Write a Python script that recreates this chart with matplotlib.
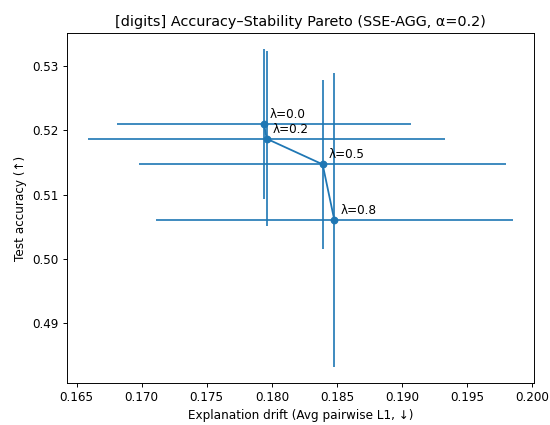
import matplotlib
matplotlib.use("Agg")
import matplotlib.pyplot as plt

lambdas = ["0.0", "0.2", "0.5", "0.8"]
drift = [0.1794, 0.1796, 0.1839, 0.1848]
drift_err = [0.0113, 0.0137, 0.0141, 0.0137]
acc = [0.5210, 0.5187, 0.5147, 0.5060]
acc_err = [0.0117, 0.0136, 0.0132, 0.0229]

DPI = 86
fig = plt.figure(figsize=(550 / DPI, 425 / DPI), dpi=DPI)
ax = fig.add_axes([67 / 550, 42 / 425, 467 / 550, 350 / 425])

ax.errorbar(drift, acc, xerr=drift_err, yerr=acc_err, fmt="-o", color="C0",
            markersize=5.5, linewidth=1.5, elinewidth=1.4)
for lab, x, y in zip(lambdas, drift, acc):
    ax.annotate(f"λ={lab}", (x, y), textcoords="offset points", xytext=(5, 5),
                fontsize=10)

ax.set_xlabel("Explanation drift (Avg pairwise L1, ↓)")
ax.set_ylabel("Test accuracy (↑)")
ax.set_title("[digits] Accuracy–Stability Pareto (SSE-AGG, α=0.2)")

fig.savefig("out.png", dpi=DPI)
